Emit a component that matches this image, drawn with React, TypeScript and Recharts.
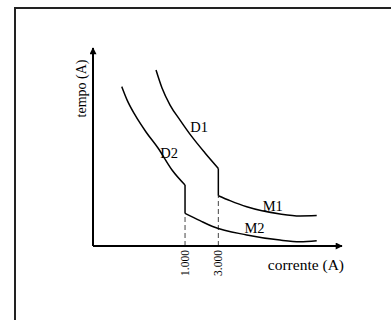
import React from 'react';
import { LineChart, Line, XAxis, YAxis, ReferenceDot } from 'recharts';

// corrente (A) on a log axis, tempo in arbitrary units
const X_TICKS = [1000, 3000];
const X_DOMAIN = [48, 177500];
const Y_DOMAIN = [0, 100];

const D1 = [
  { x: 384, y: 88.9 },
  { x: 468, y: 79.8 },
  { x: 610, y: 71.2 },
  { x: 848, y: 63.6 },
  { x: 1260, y: 55.1 },
  { x: 1934, y: 47.0 },
  { x: 3000, y: 39.2 },
];
const M1 = [
  { x: 3000, y: 25.4 },
  { x: 4410, y: 22.9 },
  { x: 7660, y: 19.8 },
  { x: 22960, y: 16.2 },
  { x: 44420, y: 15.2 },
  { x: 77060, y: 15.4 },
];
const D2 = [
  { x: 124, y: 80.5 },
  { x: 148, y: 73.7 },
  { x: 192, y: 66.2 },
  { x: 276, y: 57.6 },
  { x: 410, y: 49.5 },
  { x: 651, y: 38.4 },
  { x: 1000, y: 30.8 },
];
const M2 = [
  { x: 1000, y: 16.5 },
  { x: 1640, y: 12.8 },
  { x: 2544, y: 9.7 },
  { x: 7660, y: 5.6 },
  { x: 22960, y: 3.0 },
  { x: 44420, y: 2.2 },
  { x: 77060, y: 2.7 },
];
const CURVE_LABELS = [
  { name: 'D1', x: 1587, y: 57.8 },
  { name: 'D2', x: 590, y: 44.4 },
  { name: 'M1', x: 18050, y: 17.9 },
  { name: 'M2', x: 9900, y: 6.6 },
];

const FONT = '"Liberation Serif", "Times New Roman", serif';

const drop1 = [D1[D1.length - 1], M1[0]];
const drop2 = [D2[D2.length - 1], M2[0]];
const dash1 = [{ x: M1[0].x, y: 0 }, M1[0]];
const dash2 = [{ x: M2[0].x, y: 0 }, M2[0]];

const fmt = (v: number) => String(v).replace(/\B(?=(\d{3})+(?!\d))/g, '.');

const Tick = (props: any) => {
  const { x, y, payload } = props;
  return (
    <text
      x={x}
      y={y}
      dy="0.35em"
      textAnchor="end"
      transform={`rotate(-90 ${x} ${y})`}
      fontFamily={FONT}
      fontSize={11.5}
      fill="#000"
    >
      {fmt(payload.value)}
    </text>
  );
};

export default function App() {
  const lineProps = {
    dataKey: 'y',
    stroke: '#000',
    strokeWidth: 1.5,
    dot: false,
    activeDot: false,
    isAnimationActive: false,
  } as any;
  return (
    <div style={{ position: 'absolute', left: 0, top: 0, width: 391, height: 320, background: '#fff', overflow: 'hidden' }}>
      <div
        style={{
          position: 'absolute',
          left: 14,
          top: 7,
          width: 400,
          height: 330,
          borderTop: '2px solid #222',
          borderLeft: '2px solid #222',
          boxSizing: 'border-box',
        }}
      />
      <div style={{ position: 'absolute', left: 0, top: 0 }}>
        <LineChart width={391} height={320} margin={{ top: 48, right: 49, bottom: 44, left: 63 }}>
          <defs>
            <marker
              id="arrowHead"
              viewBox="0 0 10 10"
              refX="9"
              refY="5"
              markerWidth="8"
              markerHeight="7"
              markerUnits="userSpaceOnUse"
              orient="auto-start-reverse"
            >
              <path d="M0,0 L10,5 L0,10 z" fill="#000" />
            </marker>
          </defs>
          <XAxis
            type="number"
            dataKey="x"
            scale="log"
            domain={X_DOMAIN}
            allowDataOverflow
            ticks={X_TICKS}
            interval={0}
            height={30}
            tickLine={false}
            tickSize={2}
            tickMargin={2}
            tick={<Tick />}
            axisLine={{ stroke: '#000', strokeWidth: 2, markerEnd: 'url(#arrowHead)' } as any}
            label={{
              content: (p: any) => {
                const vb = p.viewBox || { x: 93, y: 246, width: 249 };
                return (
                  <text x={vb.x + vb.width + 2} y={vb.y + 23.5} textAnchor="end" fontFamily={FONT} fontSize={15.5} fill="#000">
                    corrente (A)
                  </text>
                );
              },
            } as any}
          />
          <YAxis
            type="number"
            dataKey="y"
            domain={Y_DOMAIN}
            width={30}
            tick={false}
            tickLine={false}
            axisLine={{ stroke: '#000', strokeWidth: 2, markerStart: 'url(#arrowHead)' } as any}
            label={{
              content: (p: any) => {
                const vb = p.viewBox || { x: 63, y: 48, width: 30 };
                const cx = vb.x + vb.width - 7;
                const cy = vb.y + 40.5;
                return (
                  <text x={cx} y={cy} textAnchor="middle" transform={`rotate(-90 ${cx} ${cy})`} fontFamily={FONT} fontSize={14} fill="#000">
                    tempo (A)
                  </text>
                );
              },
            } as any}
          />
          <Line {...lineProps} data={dash1} type="linear" stroke="#444" strokeWidth={1} strokeDasharray="5 3" />
          <Line {...lineProps} data={dash2} type="linear" stroke="#444" strokeWidth={1} strokeDasharray="5 3" />
          <Line {...lineProps} data={D1} type="monotone" />
          <Line {...lineProps} data={drop1} type="linear" />
          <Line {...lineProps} data={M1} type="monotone" />
          <Line {...lineProps} data={D2} type="monotone" />
          <Line {...lineProps} data={drop2} type="linear" />
          <Line {...lineProps} data={M2} type="monotone" />
          {CURVE_LABELS.map((l) => (
            <ReferenceDot
              key={l.name}
              x={l.x}
              y={l.y}
              r={0}
              ifOverflow="visible"
              shape={(p: any) => (
                <text x={p.cx} y={p.cy} textAnchor="middle" fontFamily={FONT} fontSize={14.5} fill="#000">
                  {l.name}
                </text>
              )}
            />
          ))}
        </LineChart>
      </div>
    </div>
  );
}
